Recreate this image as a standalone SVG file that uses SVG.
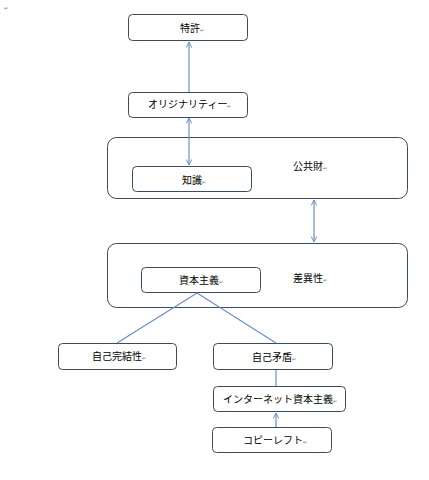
<svg xmlns="http://www.w3.org/2000/svg" width="429" height="480" viewBox="0 0 429 480">
<style>
.box{fill:#ffffff;stroke:#3b4b5e;stroke-width:1}
.t{font-family:"Noto Sans CJK JP","Noto Sans",sans-serif;font-size:10px;fill:#000}
.pm{font-size:5px;fill:#777}
.c{stroke:#6a8fc2;stroke-width:1.2;fill:none}
</style>
<defs>
<marker id="ah" viewBox="0 0 10 10" refX="9" refY="5" markerWidth="7" markerHeight="7" orient="auto-start-reverse" markerUnits="userSpaceOnUse">
<path d="M1,1 L9,5 L1,9" fill="none" stroke="#6a8fc2" stroke-width="1.4"/>
</marker>
</defs>
<rect width="429" height="480" fill="#ffffff"/>
<text class="t pm" x="4" y="10">↵</text>
<g id="n-kokyozai"><rect class="box" x="107.5" y="137.5" width="300" height="61" rx="9"/><text class="t" x="293" y="170">公共財<tspan class="pm">↵</tspan></text></g>
<g id="n-saisei"><rect class="box" x="107.5" y="243.5" width="300" height="64" rx="9"/><text class="t" x="293" y="282">差異性<tspan class="pm">↵</tspan></text></g>
<g id="n-tokkyo"><rect class="box" x="128.5" y="14.5" width="119" height="26" rx="4"/><text class="t" x="180" y="32">特許<tspan class="pm">↵</tspan></text></g>
<g id="n-original"><rect class="box" x="128.5" y="92.5" width="119" height="25" rx="4"/><text class="t" x="148" y="108">オリジナリティー<tspan class="pm">↵</tspan></text></g>
<g id="n-chishiki"><rect class="box" x="132.5" y="166.5" width="119" height="25" rx="4"/><text class="t" x="182" y="184">知識<tspan class="pm">↵</tspan></text></g>
<g id="n-shihon"><rect class="box" x="141.5" y="267.5" width="119" height="25" rx="4"/><text class="t" x="179" y="284">資本主義<tspan class="pm">↵</tspan></text></g>
<g id="n-jikokanketsu"><rect class="box" x="58.5" y="343.5" width="118" height="26" rx="4"/><text class="t" x="92" y="360">自己完結性<tspan class="pm">↵</tspan></text></g>
<g id="n-jikomujun"><rect class="box" x="213.5" y="343.5" width="119" height="26" rx="4"/><text class="t" x="252" y="361">自己矛盾<tspan class="pm">↵</tspan></text></g>
<g id="n-internet"><rect class="box" x="213.5" y="386.5" width="132" height="25" rx="4"/><text class="t" x="223" y="403">インターネット資本主義<tspan class="pm">↵</tspan></text></g>
<g id="n-copyleft"><rect class="box" x="212.5" y="427.5" width="119" height="25" rx="4"/><text class="t" x="243" y="444">コピーレフト<tspan class="pm">↵</tspan></text></g>
<g id="connectors">
<line class="c" x1="189" y1="92" x2="189" y2="42" marker-end="url(#ah)"/>
<line class="c" x1="189" y1="118" x2="189" y2="165" marker-start="url(#ah)" marker-end="url(#ah)"/>
<line class="c" x1="314" y1="200" x2="314" y2="242" marker-start="url(#ah)" marker-end="url(#ah)"/>
<line class="c" x1="197" y1="293" x2="117" y2="343"/>
<line class="c" x1="197" y1="293" x2="276" y2="343"/>
<line class="c" x1="276" y1="370" x2="276" y2="386"/>
<line class="c" x1="276" y1="427" x2="276" y2="413" marker-end="url(#ah)"/>
</g>
</svg>
